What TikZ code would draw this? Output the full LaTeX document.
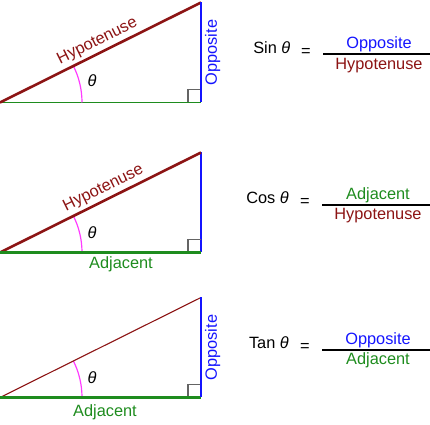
\documentclass[tikz,border=0pt]{standalone}
\usepackage{fontspec}
\setmainfont{Liberation Sans}
\usetikzlibrary{positioning}
\definecolor{hypred}{RGB}{140,20,20}
\definecolor{oppblue}{RGB}{20,20,255}
\definecolor{adjgreen}{RGB}{30,140,30}
\definecolor{arcpink}{RGB}{255,60,255}
\definecolor{boxgray}{RGB}{100,100,100}

\begin{document}
\begin{tikzpicture}[x=1bp,y=1bp,inner sep=0pt,
	font=\fontsize{16.4}{19}\selectfont,
	boldline/.style={line width=2.6bp},
	fineline/.style={line width=1.1bp},
	hyptext/.style={hypred,rotate=\ang,anchor=south,inner sep=2.8bp},
	opptext/.style={oppblue,rotate=90,anchor=north,inner sep=2.8bp},
	adjtext/.style={adjgreen,anchor=north,inner sep=2.8bp},
	anglearc/.style={arcpink,line width=1.2bp},
	rightbox/.style={boxgray,line width=1.5bp},
	fracbar/.style={line width=1.8bp}
	]
	\def\w{201}
	\def\ang{26.45}
	\def\r{82}
	\def\s{13}
	\useasboundingbox (0,0) rectangle (430,425);

	% sin
	\coordinate (A1) at (0,322.5);
	\coordinate (B1) at (\w,322.5);
	\coordinate (C1) at (\w,422.5);
	\draw[adjgreen,fineline] (A1) -- (B1);
	\draw[rightbox] (B1) ++(-\s,0) -- ++(0,\s) -- ++(\s,0);
	\draw[anglearc] (A1) ++(\r,0) arc[start angle=0,end angle=\ang,radius=\r];
	\draw[hypred,boldline] (A1) -- node[hyptext,pos=0.51] (hyp1) {Hypotenuse} (C1);
	\draw[oppblue,boldline] (B1) -- node[opptext] (opp1) {Opposite} (C1);
	\node (th1) at (92,344) {\textit{θ}};

	\node[anchor=east] (sin) at (290.5,377) {Sin \textit{θ}};
	\node (eq1) at (306,373) {=};
	\coordinate (bar1a) at (323,371);
	\coordinate (bar1b) at (430,371);
	\draw[fracbar] (bar1a) -- (bar1b);
	\node[oppblue] (num1) at (379,381) {Opposite};
	\node[hypred] (den1) at (379,359.5) {Hypotenuse};

	% cos
	\coordinate (A2) at (0,172.5);
	\coordinate (B2) at (\w,172.5);
	\coordinate (C2) at (\w,272.5);
	\draw[oppblue,fineline] (B2) -- (C2);
	\draw[rightbox] (B2) ++(-\s,0) -- ++(0,\s) -- ++(\s,0);
	\draw[anglearc] (A2) ++(\r,0) arc[start angle=0,end angle=\ang,radius=\r];
	\draw[hypred,boldline] (A2) -- node[hyptext,pos=0.54] (hyp2) {Hypotenuse} (C2);
	\draw[adjgreen,boldline] (A2) -- node[adjtext,xshift=20.5bp] (adj2) {Adjacent} (B2);
	\node (th2) at (92,192) {\textit{θ}};

	\node[anchor=east] (cos) at (289,227) {Cos \textit{θ}};
	\node (eq2) at (305,223) {=};
	\coordinate (bar2a) at (322,220);
	\coordinate (bar2b) at (430,220);
	\draw[fracbar] (bar2a) -- (bar2b);
	\node[adjgreen] (num2) at (378,230) {Adjacent};
	\node[hypred] (den2) at (378,209) {Hypotenuse};

	% tan
	\coordinate (A3) at (0,27.5);
	\coordinate (B3) at (\w,27.5);
	\coordinate (C3) at (\w,127.5);
	\draw[rightbox] (B3) ++(-\s,0) -- ++(0,\s) -- ++(\s,0);
	\draw[anglearc] (A3) ++(\r,0) arc[start angle=0,end angle=\ang,radius=\r];
	\draw[hypred,fineline] (A3) -- (C3);
	\draw[adjgreen,boldline] (A3) -- node[adjtext,xshift=4.5bp,inner sep=6.3bp] (adj3) {Adjacent} (B3);
	\draw[oppblue,boldline] (B3) -- node[opptext] (opp3) {Opposite} (C3);
	\node (th3) at (92,47) {\textit{θ}};

	\node[anchor=east] (tan) at (289,82) {Tan \textit{θ}};
	\node (eq3) at (305,78) {=};
	\coordinate (bar3a) at (322,75);
	\coordinate (bar3b) at (430,75);
	\draw[fracbar] (bar3a) -- (bar3b);
	\node[oppblue] (num3) at (378,85) {Opposite};
	\node[adjgreen] (den3) at (378,65) {Adjacent};
\end{tikzpicture}
\end{document}
